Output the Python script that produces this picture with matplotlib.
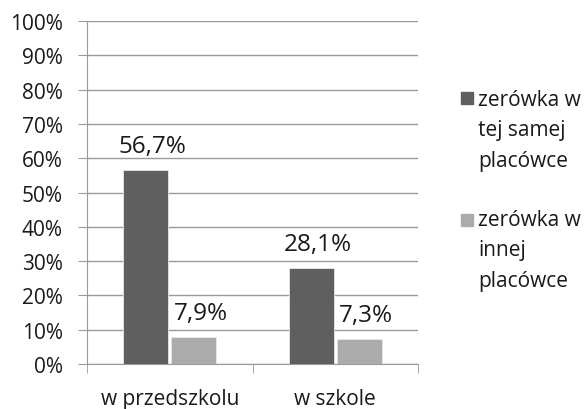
import numpy as np
import matplotlib
matplotlib.use('Agg')
import matplotlib.pyplot as plt
from matplotlib.patches import Rectangle

categories = ['w przedszkolu', 'w szkole']
series_names = ['zerówka w\ntej samej\nplacówce', 'zerówka w\ninnej\nplacówce']
same_place = [56.7, 28.1]
other_place = [7.9, 7.3]
y_ticks = [0, 10, 20, 30, 40, 50, 60, 70, 80, 90, 100]

plt.rcParams['font.family'] = ['Open Sans', 'DejaVu Sans']
text_color = '#1a1a1a'
grid_color = '#9a9a9a'

fig = plt.figure(figsize=(5.88, 4.10), dpi=100)
ax = fig.add_axes([0.148, 0.110, 0.563, 0.836])

x = np.arange(len(categories))
width = 0.27
offset = 0.145
colors = ['#5f5f5f', '#ababab']

for vals, off, color in zip([same_place, other_place], [-offset, offset], colors):
    bars = ax.bar(x + off, vals, width, color=color, zorder=3,
                  edgecolor='#e8e8e8', linewidth=0.6)
    for b, v in zip(bars, vals):
        ax.annotate(f'{v:.1f}%'.replace('.', ','),
                    (b.get_x() + b.get_width() / 2, v),
                    xytext=(7, 12), textcoords='offset pixels',
                    ha='center', va='bottom', fontsize=17.5, color=text_color)

ax.set_xlim(-0.5, 1.5)
ax.set_ylim(0, 100)
ax.set_yticks(y_ticks)
ax.set_yticklabels([f'{t}%' for t in y_ticks], fontsize=15, color=text_color)
ax.yaxis.grid(True, color=grid_color, linewidth=1, zorder=0)
ax.tick_params(axis='y', length=6.5, color=grid_color, pad=11)

ax.set_xticks(x)
ax.set_xticklabels(categories, fontsize=15, color=text_color)
ax.set_xticks([-0.5, 0.5, 1.5], minor=True)
ax.tick_params(axis='x', which='major', length=0, pad=17)
ax.tick_params(axis='x', which='minor', length=6.5, color=grid_color)

for side in ['top', 'right']:
    ax.spines[side].set_visible(False)
ax.spines['left'].set_color(grid_color)
ax.spines['bottom'].set_color(grid_color)

# legend drawn by hand: square next to the first line of a 3-line label
# (va='baseline' on multi-line text pins the last line)
W, H = 588, 410
for name, color, yc, yb in zip(series_names, colors, [99, 221], [167, 287]):
    fig.patches.append(Rectangle((461 / W, 1 - (yc + 6) / H), 12 / W, 12 / H,
                                 transform=fig.transFigure, color=color))
    fig.text(478 / W, 1 - yb / H, name, fontsize=15, color=text_color,
             ha='left', va='baseline', linespacing=1.6)

plt.savefig('out.png', dpi=100)
